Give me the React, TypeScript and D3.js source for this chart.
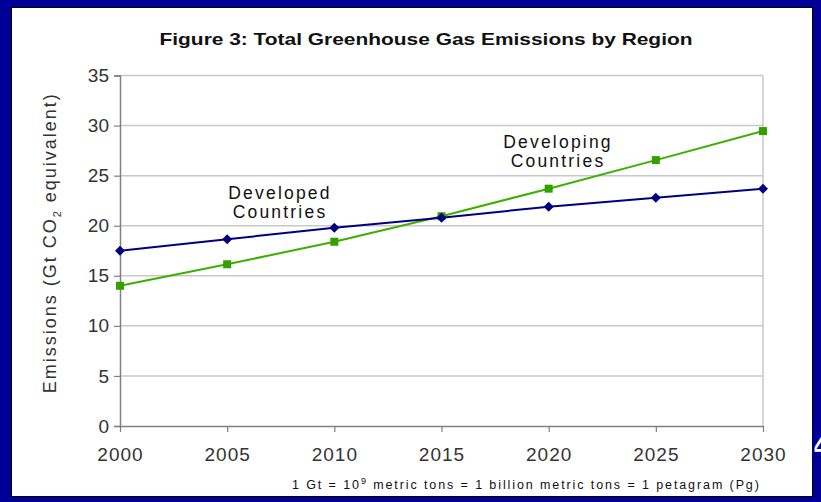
import React, { useRef, useEffect } from "react";
import * as d3 from "d3";

// Years on the x axis
const years = [2000, 2005, 2010, 2015, 2020, 2025, 2030];
// Gt CO2 equivalent
const developed = [17.5, 18.65, 19.8, 20.8, 21.9, 22.8, 23.7];
const developing = [14.0, 16.15, 18.4, 20.95, 23.7, 26.55, 29.45];
const yTicks = [0, 5, 10, 15, 20, 25, 30, 35];

const W = 821;
const H = 502;

export default function App() {
  const svgRef = useRef<SVGSVGElement>(null);

  useEffect(() => {
    document.body.style.margin = "0";
    document.body.style.background = "#000099";
    if (!svgRef.current) return;
    const svg = d3.select(svgRef.current);
    svg.selectAll("*").remove();

    // blue slide background and white panel
    svg.append("rect").attr("x", 0).attr("y", 0).attr("width", W).attr("height", H).attr("fill", "#000099");
    svg.append("rect")
      .attr("x", 11.5).attr("y", 7.5).attr("width", 801).attr("height", 489)
      .attr("fill", "#fff").attr("stroke", "#000").attr("stroke-width", 1);

    // clipped glyph peeking out at the right edge
    svg.append("text")
      .attr("x", 813).attr("y", 455)
      .attr("font-family", "Liberation Sans, Arial, sans-serif")
      .attr("font-size", 26).attr("font-weight", "bold")
      .attr("fill", "#fff").text("4");
    svg.append("rect").attr("x", 812.5).attr("y", 420).attr("width", 2).attr("height", 50).attr("fill", "#000099");

    const margin = { left: 120, right: 763, top: 75.5, bottom: 426 };
    const x = d3.scaleLinear().domain([2000, 2030]).range([margin.left, margin.right]);
    const y = d3.scaleLinear().domain([0, 35]).range([margin.bottom, margin.top]);

    const font = "Liberation Sans, Arial, sans-serif";

    // title
    svg.append("text")
      .attr("x", 426).attr("y", 45)
      .attr("text-anchor", "middle")
      .attr("font-family", "Liberation Sans Narrow, Arial Narrow, Liberation Sans, sans-serif")
      .attr("font-weight", "bold").attr("font-size", 17)
      .attr("textLength", 533).attr("lengthAdjust", "spacingAndGlyphs")
      .attr("fill", "#111")
      .text("Figure 3: Total Greenhouse Gas Emissions by Region");

    // gridlines
    svg.append("g").selectAll("line").data(yTicks.filter(d => d > 0)).join("line")
      .attr("x1", margin.left).attr("x2", margin.right)
      .attr("y1", d => y(d)).attr("y2", d => y(d))
      .attr("stroke", "#c8c8c8").attr("stroke-width", 1.5);
    svg.append("line")
      .attr("x1", x(2030)).attr("x2", x(2030))
      .attr("y1", margin.top).attr("y2", margin.bottom)
      .attr("stroke", "#c8c8c8").attr("stroke-width", 1.5);

    // y axis
    const yAxis = svg.append("g")
      .attr("transform", `translate(${margin.left},0)`)
      .call(d3.axisLeft(y).tickValues(yTicks).tickSize(6).tickPadding(5));
    yAxis.select(".domain").attr("stroke", "#808080").attr("stroke-width", 1.5);
    yAxis.selectAll(".tick line").attr("stroke", "#808080").attr("stroke-width", 1.2);
    yAxis.selectAll(".tick text")
      .attr("font-family", font).attr("font-size", 19).attr("fill", "#333");

    // x axis
    const xAxis = svg.append("g")
      .attr("transform", `translate(0,${margin.bottom})`)
      .call(d3.axisBottom(x).tickValues(years).tickFormat(d3.format("d")).tickSize(6).tickPadding(16).tickSizeOuter(0));
    xAxis.select(".domain").attr("stroke", "#808080").attr("stroke-width", 1.5);
    xAxis.selectAll(".tick line").attr("stroke", "#808080").attr("stroke-width", 1.2);
    xAxis.selectAll(".tick text")
      .attr("font-family", font).attr("font-size", 19).attr("letter-spacing", 1).attr("fill", "#333");

    // y axis title
    const yt = svg.append("text")
      .attr("transform", `translate(56,${(margin.top + margin.bottom) / 2 - 8}) rotate(-90)`)
      .attr("text-anchor", "middle")
      .attr("font-family", font).attr("font-size", 18).attr("letter-spacing", 2)
      .attr("fill", "#333");
    yt.append("tspan").text("Emissions (Gt CO");
    yt.append("tspan").attr("font-size", 11).attr("dy", 5).text("2");
    yt.append("tspan").attr("dy", -5).text(" equivalent)");

    const line = d3.line<number>().x((_, i) => x(years[i])).y(d => y(d));

    // developing (green squares)
    svg.append("path").datum(developing)
      .attr("fill", "none").attr("stroke", "#3cb000").attr("stroke-width", 2).attr("d", line);
    svg.append("g").selectAll("rect").data(developing).join("rect")
      .attr("x", (_, i) => x(years[i]) - 4).attr("y", d => y(d) - 4)
      .attr("width", 8).attr("height", 8).attr("fill", "#33a000");

    // developed (navy diamonds)
    svg.append("path").datum(developed)
      .attr("fill", "none").attr("stroke", "#000080").attr("stroke-width", 2).attr("d", line);
    svg.append("g").selectAll("path").data(developed).join("path")
      .attr("transform", (d, i) => `translate(${x(years[i])},${y(d)})`)
      .attr("d", "M0,-5L5,0L0,5L-5,0Z").attr("fill", "#000080");

    // series labels
    const label = (cx: number, cy: number, lines: string[]) => {
      lines.forEach((t, k) => {
        svg.append("text")
          .attr("x", cx).attr("y", cy + k * 19)
          .attr("text-anchor", "middle")
          .attr("font-family", font).attr("font-size", 17.5)
          .attr("letter-spacing", 2.2).attr("fill", "#111")
          .text(t);
      });
    };
    label(280, 199, ["Developed", "Countries"]);
    label(558, 148, ["Developing", "Countries"]);

    // footnote
    const fn = svg.append("text")
      .attr("x", 292).attr("y", 489)
      .attr("font-family", font)
      .attr("font-size", 12.5).attr("letter-spacing", 1.9).attr("fill", "#111");
    fn.append("tspan").text("1 Gt = 10");
    fn.append("tspan").attr("font-size", 9).attr("dy", -5).text("9");
    fn.append("tspan").attr("dy", 5).text(" metric tons = 1 billion metric tons = 1 petagram (Pg)");
  }, []);

  return <svg ref={svgRef} width={W} height={H} style={{ display: "block" }} />;
}
